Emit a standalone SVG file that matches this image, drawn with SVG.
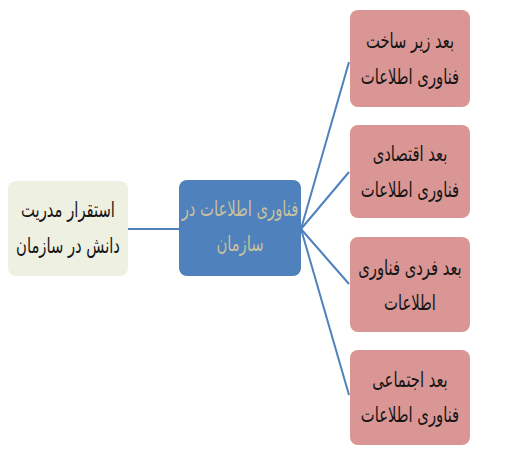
<svg xmlns="http://www.w3.org/2000/svg" width="509" height="457" viewBox="0 0 509 457">
<style>
text{font-family:"DejaVu Sans","Noto Sans",sans-serif;font-size:18px;text-anchor:middle;direction:rtl}
.pink{fill:#d99694}
.dark{fill:#151515}
.light{fill:#c8c09c}
.conn{stroke:#4f81bd;stroke-width:2;fill:none}
</style>
<rect width="509" height="457" fill="#ffffff"/>
<g id="connectors">
<line class="conn" x1="128" y1="229" x2="180" y2="229"/>
<line class="conn" x1="301" y1="229" x2="349" y2="62"/>
<line class="conn" x1="301" y1="229" x2="349" y2="172"/>
<line class="conn" x1="301" y1="229" x2="349" y2="284"/>
<line class="conn" x1="301" y1="229" x2="349" y2="395"/>
</g>
<g id="node-left">
<rect x="8" y="181" width="120" height="95" rx="8" fill="#eef0e2"/>
<text class="dark" transform="translate(68,217) scale(0.82,1.2)">استقرار مدریت</text>
<text class="dark" transform="translate(68,253) scale(0.82,1.2)">دانش در سازمان</text>
</g>
<g id="node-center">
<rect x="179" y="180" width="122" height="96" rx="8" fill="#4f81bd"/>
<text class="light" transform="translate(240,216) scale(0.82,1.2)">فناوری اطلاعات در</text>
<text class="light" transform="translate(240,251) scale(0.82,1.2)">سازمان</text>
</g>
<g id="node-r1">
<rect class="pink" x="350" y="10" width="120" height="97" rx="8"/>
<text class="dark" transform="translate(410,48) scale(0.82,1.2)">بعد زیر ساخت</text>
<text class="dark" transform="translate(410,84) scale(0.82,1.2)">فناوری اطلاعات</text>
</g>
<g id="node-r2">
<rect class="pink" x="350" y="125" width="120" height="93" rx="8"/>
<text class="dark" transform="translate(410,161) scale(0.82,1.2)">بعد اقتصادی</text>
<text class="dark" transform="translate(410,197) scale(0.82,1.2)">فناوری اطلاعات</text>
</g>
<g id="node-r3">
<rect class="pink" x="350" y="237" width="120" height="95" rx="8"/>
<text class="dark" transform="translate(410,275) scale(0.82,1.2)">بعد فردی فناوری</text>
<text class="dark" transform="translate(410,310) scale(0.82,1.2)">اطلاعات</text>
</g>
<g id="node-r4">
<rect class="pink" x="350" y="350" width="120" height="95" rx="8"/>
<text class="dark" transform="translate(410,387) scale(0.82,1.2)">بعد اجتماعی</text>
<text class="dark" transform="translate(410,422) scale(0.82,1.2)">فناوری اطلاعات</text>
</g>
</svg>
